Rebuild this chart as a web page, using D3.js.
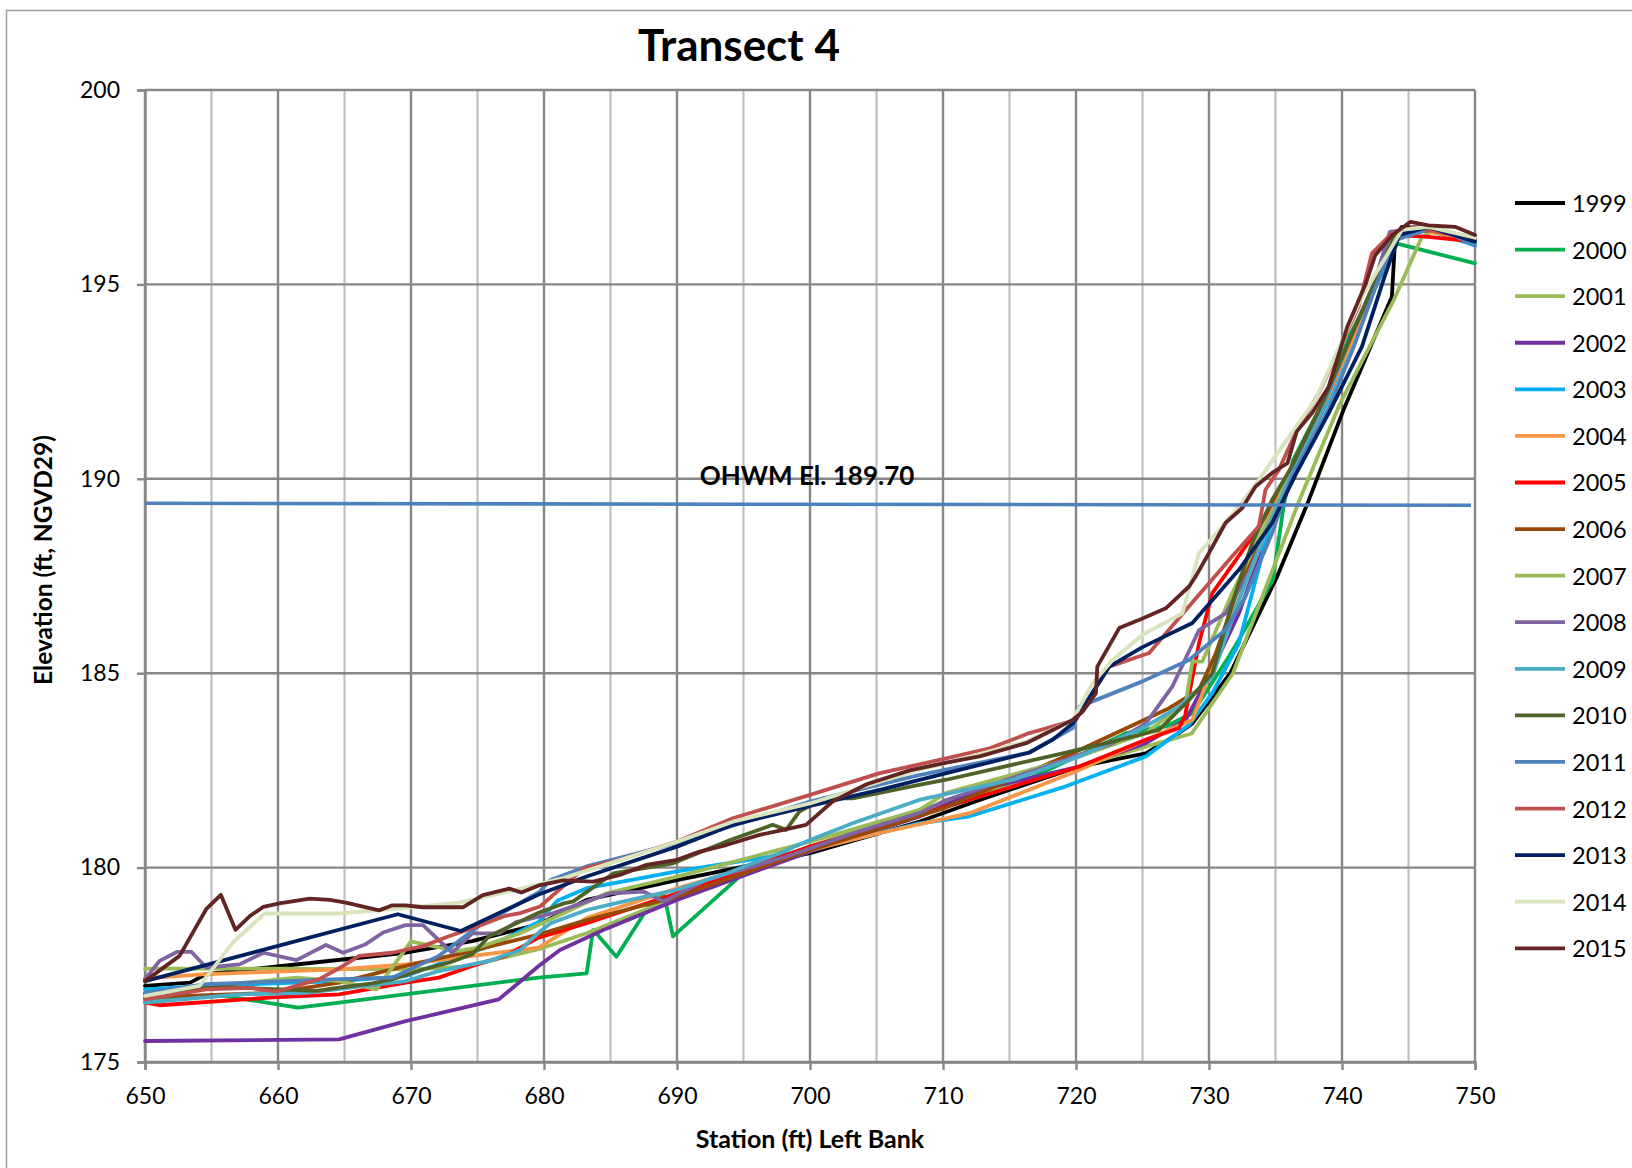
<!DOCTYPE html>
<html>
<head>
<meta charset="utf-8">
<script src="https://cdn.jsdelivr.net/npm/d3@7"></script>
<style>
  html, body { margin: 0; padding: 0; background: #ffffff; }
  svg { display: block; }
  text { font-family: Lato, "Open Sans", sans-serif; }
</style>
</head>
<body>
<svg id="chart" width="1632" height="1168"></svg>
<script>
// ---------------- DATA ----------------
const years = ["1999","2000","2001","2002","2003","2004","2005","2006","2007","2008","2009","2010","2011","2012","2013","2014","2015"];
const colors = ["#000000","#00B050","#9BBB59","#7030A0","#00B0F0","#F79646","#FF0000","#984807","#9BBB59","#8064A2","#4BACC6","#4F6228","#4F81BD","#C0504D","#002060","#D7E4BD","#632523"];

const xTicks = [650,660,670,680,690,700,710,720,730,740,750];
const xMinor = [655,665,675,685,695,705,715,725,735,745];
const yTicks = [175,180,185,190,195,200];

const title = "Transect 4";
const xTitle = "Station (ft) Left Bank";
const yTitle = "Elevation (ft, NGVD29)";
const ohwmLabel = "OHWM El. 189.70";
const ohwmStation = [650, 749.7];
const ohwmElev = [189.37, 189.32];

const s1999 = [[650,176.96],[653.4,177.04],[654.6,177.26],[669.6,177.81],[674.6,178.11],[679.6,178.54],[683.2,179.17],[690,179.68],[700,180.37],[708.2,181.18],[712.75,181.74],[720.25,182.6],[725.25,182.94],[727.75,183.46],[728.75,183.71],[731.6,185.0],[735.1,187.47],[737.4,189.36],[740.1,191.76],[743.75,194.68],[744,196.22],[744.5,196.48],[746.5,196.44],[750,196.1]];
const s2000 = [[650,176.61],[655.9,176.7],[661.5,176.4],[664.6,176.53],[679.6,177.17],[683.2,177.28],[683.7,178.4],[685.45,177.71],[687.7,178.91],[689,179.34],[689.7,178.23],[694.7,179.77],[700,180.54],[708.2,181.35],[715.25,182.09],[723.25,183.37],[723.75,183.46],[726.75,183.63],[728.75,183.97],[731.5,185.43],[732.25,185.86],[734.8,187.4],[735.6,189.27],[736.3,190.47],[738.6,192.0],[740.6,193.7],[744.15,196.05],[750,195.54]];
const s2001 = [[650,177.4],[660,177.4],[670,177.38],[674,177.45],[679.6,177.9],[683.2,178.31],[685.7,178.65],[690,179.25],[695.7,180.03],[700,180.54],[708.2,181.48],[712.75,181.92],[720.25,182.6],[725.25,183.11],[728.7,183.45],[731.8,185.0],[736.8,189.45],[739.8,191.9],[743.9,194.6],[746,196.22],[747,196.4],[750,196.14]];
const s2002 = [[650,175.54],[664.6,175.58],[669.6,176.05],[676.6,176.61],[679.6,177.47],[681.2,177.88],[684.5,178.4],[690,179.17],[700,180.41],[708.2,181.31],[712.75,182.0],[720.25,182.6],[725.25,183.2],[728.25,183.8],[730.25,185.09],[732.25,186.54],[734.5,188.7],[736.2,190.0],[738.6,191.9],[740.6,193.6],[742.4,195.0],[743.6,196.3],[746,196.5],[750,196.15]];
const s2003 = [[650,176.87],[654.6,176.96],[664.6,177.08],[669.6,177.21],[673.4,177.68],[675.9,177.98],[679.6,178.6],[681,179.15],[683.2,179.47],[686.5,179.68],[690,179.9],[700,180.45],[708.2,181.14],[712,181.32],[719.25,182.09],[725.25,182.86],[728.5,183.67],[730.25,184.49],[732.25,185.77],[734.5,188.69],[736.5,190.33],[738.8,191.9],[740.8,193.6],[742.6,195.0],[744.2,196.2],[746.5,196.4],[750,196.0]];
const s2004 = [[650,177.15],[654.6,177.26],[664.6,177.38],[669.6,177.51],[674.6,177.73],[679.6,177.94],[683.2,178.7],[690,179.47],[700,180.45],[705.25,180.89],[712,181.4],[720.25,182.51],[725.25,183.29],[728.75,183.8],[731.25,186.03],[734.75,189.04],[736.5,190.3],[738.8,192.0],[740.8,193.6],[742.5,195.0],[744.2,196.2],[745.75,196.4],[750,196.14]];
const s2005 = [[650,176.53],[651.1,176.46],[659.6,176.66],[664.6,176.74],[669.6,177.04],[672.1,177.17],[674.6,177.47],[677.1,177.73],[679.6,178.2],[683.2,178.57],[690,179.34],[700,180.54],[705.25,181.06],[710.25,181.57],[720.25,182.6],[725.25,183.29],[727.75,183.59],[728.2,183.9],[729.25,185.77],[730.25,187.06],[732.75,188.26],[734.25,189.04],[736.2,190.3],[738.6,192.0],[740.6,193.6],[742.4,195.0],[744.2,196.27],[746.5,196.22],[750,196.1]];
const s2006 = [[650,176.66],[659.6,176.78],[664.6,177.04],[669.6,177.47],[674.6,177.86],[679.6,178.28],[683.2,178.65],[690,179.25],[700,180.45],[705.25,181.0],[710.25,181.55],[719.75,182.94],[727,184.1],[729.25,184.57],[730.5,185.5],[732.25,187.23],[734.5,188.8],[736.2,190.1],[738.6,191.9],[740.6,193.6],[742.4,195.0],[744,196.25],[746.5,196.45],[750,196.2]];
const s2007 = [[650,176.78],[661.4,177.17],[664.6,177.08],[667.4,176.87],[670,178.1],[671.6,177.98],[673.6,177.86],[675.1,177.95],[678.2,178.31],[681.5,178.83],[684.7,179.34],[690,179.77],[695.7,180.28],[700,180.67],[708.2,181.48],[710.25,181.92],[720.25,182.86],[725.25,183.46],[728.25,184.23],[728.75,185.3],[729.5,185.3],[731.75,187.06],[734.5,189.0],[736.2,190.2],[738.6,192.0],[740.6,193.6],[742.4,195.0],[744,196.2],[746.5,196.45],[750,196.1]];
const s2008 = [[650,177.13],[651.1,177.6],[652.4,177.83],[653.5,177.83],[654.6,177.43],[657.1,177.51],[658.9,177.81],[661.4,177.62],[663.6,178.01],[664.9,177.81],[666.6,178.03],[667.9,178.33],[669.6,178.52],[670.9,178.52],[673.1,177.81],[674.6,178.31],[676.6,178.31],[677.9,178.6],[680.7,178.83],[685,179.34],[687.5,179.38],[689,179.13],[692.2,179.68],[698.2,180.28],[703.2,180.88],[708.2,181.4],[710.25,181.74],[717.75,182.6],[722.75,183.2],[725.25,183.71],[727.25,184.66],[729.25,186.11],[731.25,186.54],[733,187.6],[734.5,188.8],[736.2,190.1],[738.6,191.9],[740.6,193.6],[742.4,195.0],[743.6,196.35],[746.5,196.5],[750,196.15]];
const s2009 = [[650,176.53],[657.1,176.74],[662.1,176.78],[669.6,177.08],[672.1,177.34],[675.9,177.6],[678.2,177.88],[679.6,178.33],[680.5,178.57],[683.2,178.91],[686.5,179.17],[690,179.43],[693.7,179.85],[697.7,180.37],[700,180.71],[703.2,181.14],[708.2,181.74],[715.25,182.26],[720.25,182.86],[725.25,183.63],[727.75,184.14],[730.25,184.91],[732.25,186.89],[734.5,188.8],[736.2,190.1],[738.6,191.9],[740.6,193.6],[742.4,195.0],[744,196.2],[746.5,196.5],[750,196.1]];
const s2010 = [[650,176.74],[655.4,176.96],[657.1,176.91],[660.1,176.87],[662.9,176.83],[664.6,176.91],[667.1,177.02],[668.6,177.13],[670.9,177.38],[672.9,177.56],[674.6,177.77],[675.9,178.24],[679.6,178.84],[681.5,179.08],[682.2,179.13],[685.2,179.85],[689.7,180.11],[694,180.71],[697.2,181.1],[698.2,180.97],[699.2,181.44],[701,181.78],[703.2,181.78],[708.2,182.13],[710.25,182.26],[719,182.94],[722.75,183.24],[726.25,183.54],[728.5,184.31],[730.25,185.0],[731.75,186.8],[733.25,188.35],[734.75,189.46],[736.2,190.3],[738.6,192.0],[740.6,193.6],[742.4,195.0],[744,196.3],[747,196.4],[750,196.14]];
const s2011 = [[650,176.78],[654.6,177.0],[664.6,177.13],[668.6,177.17],[672.1,177.73],[675.1,178.5],[679.6,179.36],[680.5,179.68],[683.2,180.03],[690,180.63],[700,181.7],[708.2,182.38],[716.5,182.96],[719.75,183.59],[720.25,184.14],[725,184.79],[728.5,185.34],[731.25,186.12],[732.75,186.98],[734.75,188.61],[736.25,190.07],[739,191.8],[741,193.5],[742.6,195.0],[744,196.14],[747,196.48],[750,196.0]];
const s2012 = [[650,176.61],[654.6,176.87],[657.9,176.91],[659.9,176.81],[663.1,177.13],[664.9,177.47],[666.1,177.73],[668.6,177.81],[670.9,177.98],[672.9,178.24],[675.1,178.5],[677.1,178.76],[678.2,178.83],[679.7,179.0],[683,179.98],[685.7,180.2],[690,180.67],[694.2,181.27],[700,181.87],[705.25,182.43],[710.25,182.81],[713.5,183.07],[716.5,183.46],[720,183.8],[722.5,185.17],[725.5,185.52],[728.5,186.72],[731.75,188.01],[733.75,188.78],[734.25,189.72],[735.25,190.23],[736.5,191.17],[738.25,192.2],[739.75,193.31],[741.25,194.43],[742.25,195.8],[743.75,196.31],[745.5,196.48],[750,196.14]];
const s2013 = [[650,177.08],[669,178.8],[673.75,178.37],[679.6,179.31],[683.2,179.77],[690,180.54],[694.2,181.1],[700,181.59],[705.25,182.0],[710.25,182.43],[716.5,182.96],[718.25,183.29],[719.75,183.71],[722.5,185.17],[725,185.67],[728.75,186.29],[732.25,187.66],[734.75,188.87],[736.5,190.1],[739,191.69],[741.5,193.4],[743.2,195.2],[744.3,196.27],[746.5,196.48],[750,196.1]];
const s2014 = [[650,176.7],[654.1,176.96],[656.6,178.07],[659,178.82],[664.6,178.82],[668.6,178.93],[673.6,179.1],[677.6,179.4],[681.45,179.73],[689.7,180.63],[694.2,181.18],[700,181.65],[705.25,182.21],[708.2,182.51],[710.25,182.69],[716.25,183.24],[719.75,183.8],[721.25,184.74],[722.75,185.34],[725,185.99],[728,186.54],[729.25,188.09],[731.25,188.87],[733.25,189.73],[736.75,191.44],[738,192.03],[741.5,194.68],[743.3,195.71],[744.5,196.4],[746.5,196.48],[750,196.2]];
const s2015 = [[650,177.08],[652.6,177.73],[654.6,178.93],[655.7,179.3],[656.8,178.4],[657.9,178.76],[658.9,178.99],[660.1,179.08],[662.4,179.2],[663.9,179.17],[665.1,179.1],[667.6,178.9],[668.6,179.03],[669.6,179.03],[670.9,178.98],[673.9,178.98],[675.4,179.29],[677.4,179.46],[678.3,179.36],[679.7,179.55],[681.45,179.67],[683.7,179.64],[685.7,179.81],[687.7,180.07],[690,180.2],[691.7,180.41],[693.7,180.58],[696.2,180.84],[698,180.97],[699.7,181.1],[701.7,181.7],[704.3,182.15],[707.5,182.5],[710.25,182.7],[712.75,182.86],[716.25,183.2],[718.25,183.54],[719.75,183.8],[720.5,184.01],[721.5,184.49],[721.6,185.17],[723.25,186.16],[725,186.41],[726.75,186.67],[728.5,187.23],[729,187.49],[730,188.09],[731.25,188.87],[732.5,189.25],[733.5,189.8],[734.75,190.15],[735.9,190.4],[736.6,191.22],[737.75,191.69],[739,192.37],[740.4,193.91],[741.8,195.03],[742.5,195.75],[743.8,196.27],[745.15,196.61],[746.5,196.52],[748.5,196.48],[750,196.27]];

const seriesData = [s1999,s2000,s2001,s2002,s2003,s2004,s2005,s2006,s2007,s2008,s2009,s2010,s2011,s2012,s2013,s2014,s2015];

// ---------------- CHART ----------------
const svg = d3.select("#chart");
const plot = {left:145, right:1475, top:90, bottom:1062};
const x = d3.scaleLinear().domain([650,750]).range([plot.left, plot.right]);
const y = d3.scaleLinear().domain([175,200]).range([plot.bottom, plot.top]);

// outer chart border
svg.append("rect").attr("x",6.5).attr("y",10.5).attr("width",1700).attr("height",1300)
  .attr("fill","none").attr("stroke","#9c9c9c").attr("stroke-width",1.5);

const majorColor = "#878787", minorColor = "#c0c0c0";

// minor vertical grid
svg.append("g").selectAll("line").data(xMinor).join("line")
  .attr("x1",d=>x(d)).attr("x2",d=>x(d)).attr("y1",y(200)).attr("y2",y(175))
  .attr("stroke",minorColor).attr("stroke-width",2.2);
// major vertical grid
svg.append("g").selectAll("line").data(xTicks).join("line")
  .attr("x1",d=>x(d)).attr("x2",d=>x(d)).attr("y1",y(200)).attr("y2",y(175))
  .attr("stroke",majorColor).attr("stroke-width",2.4);
// horizontal grid
svg.append("g").selectAll("line").data(yTicks).join("line")
  .attr("x1",x(650)).attr("x2",x(750)).attr("y1",d=>y(d)).attr("y2",d=>y(d))
  .attr("stroke",majorColor).attr("stroke-width",2.4);

// axes
const yAxis = svg.append("g").attr("transform",`translate(${plot.left},0)`)
  .call(d3.axisLeft(y).tickValues(yTicks).tickSize(8).tickPadding(17).tickFormat(d3.format("d")));
const xAxis = svg.append("g").attr("transform",`translate(0,${plot.bottom})`)
  .call(d3.axisBottom(x).tickValues(xTicks).tickSize(8).tickPadding(18).tickFormat(d3.format("d")));
[yAxis,xAxis].forEach(a=>{
  a.select(".domain").attr("stroke",majorColor).attr("stroke-width",2.4);
  a.selectAll(".tick line").attr("stroke",majorColor).attr("stroke-width",2.4);
  a.selectAll(".tick text").attr("fill","#000").style("font-size","23px").style("font-family","Lato, sans-serif");
});

// series lines
const line = d3.line().x(d=>x(d[0])).y(d=>y(d[1]));
const gLines = svg.append("g");
seriesData.forEach((s,i)=>{
  gLines.append("path").datum(s).attr("d",line)
    .attr("fill","none").attr("stroke",colors[i]).attr("stroke-width",3.8)
    .attr("stroke-linejoin","round").attr("stroke-linecap","round");
});

// OHWM line
svg.append("path").datum(ohwmStation.map((s,i)=>[s,ohwmElev[i]])).attr("d",line)
  .attr("fill","none").attr("stroke","#4F81BD").attr("stroke-width",3.6);
svg.append("text").attr("x",807).attr("y",475).attr("text-anchor","middle").attr("dominant-baseline","central")
  .style("font-size","26px").style("font-weight","bold").text(ohwmLabel);

// titles
svg.append("text").attr("x",739).attr("y",44).attr("text-anchor","middle").attr("dominant-baseline","central")
  .style("font-size","44px").style("font-weight","bold").text(title);
svg.append("text").attr("x",810).attr("y",1138).attr("text-anchor","middle").attr("dominant-baseline","central")
  .style("font-size","25px").style("font-weight","bold").text(xTitle);
svg.append("text").attr("transform","translate(42,560) rotate(-90)").attr("text-anchor","middle").attr("dominant-baseline","central")
  .style("font-size","24.5px").style("font-weight","bold").text(yTitle);

// legend
const legend = svg.append("g");
const lg = legend.selectAll("g").data(years).join("g")
  .attr("transform",(d,i)=>`translate(1515,${203 + i*46.58})`);
lg.append("line").attr("x1",0).attr("x2",50).attr("y1",0).attr("y2",0)
  .attr("stroke",(d,i)=>colors[i]).attr("stroke-width",3.8);
lg.append("text").attr("x",57).attr("y",0).attr("dominant-baseline","central")
  .style("font-size","23.5px").text(d=>d);
</script>
</body>
</html>
